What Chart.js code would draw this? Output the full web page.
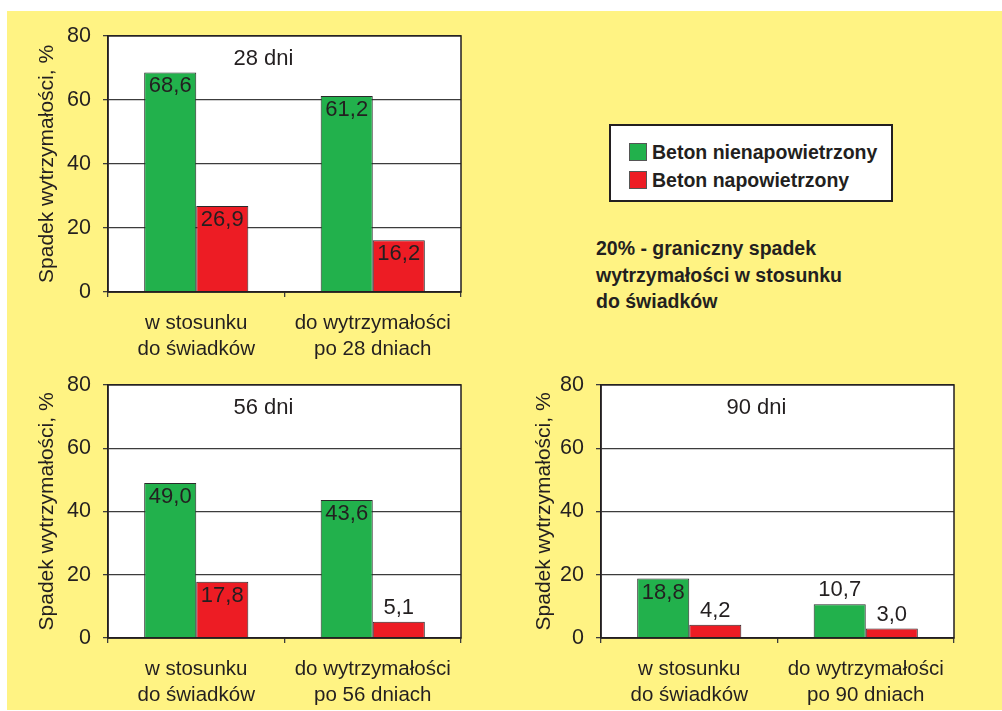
<!DOCTYPE html>
<html lang="pl">
<head>
<meta charset="utf-8">
<script src="https://cdn.jsdelivr.net/npm/chart.js@4/dist/chart.umd.min.js"></script>
<style>
  html, body { margin: 0; padding: 0; background: #ffffff; }
  body { width: 1002px; height: 711px; position: relative; overflow: hidden;
         font-family: "Liberation Sans", Arial, sans-serif; color: #231f20; }
  #panel { position: absolute; left: 7px; top: 11px; width: 995px; height: 699px; background: #fff383; }
  canvas { position: absolute; }
  #legend { position: absolute; left: 609px; top: 124px; width: 280px; height: 74px;
            background: #ffffff; border: 2px solid #231f20; }
  .entry { position: absolute; left: 18px; font-weight: bold; font-size: 19.5px; line-height: 22px; white-space: nowrap; }
  .swatch { position: absolute; left: 0; top: 2px; width: 16px; height: 16px; border: 1px solid #555; }
  .entry span.txt { position: absolute; left: 23px; top: 0; }
  #note { position: absolute; left: 596px; top: 235px; font-weight: bold; font-size: 19.5px; line-height: 26.5px; white-space: nowrap; }
</style>
</head>
<body>
<div id="panel"></div>
<canvas id="c28" width="470" height="350" style="left:7px; top:11px;"></canvas>
<canvas id="c56" width="470" height="350" style="left:7px; top:360px;"></canvas>
<canvas id="c90" width="480" height="350" style="left:500px; top:360px;"></canvas>
<div id="legend"></div>
<div id="note">20% - graniczny spadek<br>wytrzymałości w stosunku<br>do świadków</div>
<script>
// Spadek wytrzymałości betonu (%) – beton nienapowietrzony vs napowietrzony
const seriesNames = ['Beton nienapowietrzony', 'Beton napowietrzony'];
const seriesColors = ['#22b14c', '#ed1c24'];

const periods = ['28 dni', '56 dni', '90 dni'];

const categories28 = [['w stosunku', 'do świadków'], ['do wytrzymałości', 'po 28 dniach']];
const categories56 = [['w stosunku', 'do świadków'], ['do wytrzymałości', 'po 56 dniach']];
const categories90 = [['w stosunku', 'do świadków'], ['do wytrzymałości', 'po 90 dniach']];

const nienapowietrzony28 = [68.6, 61.2];
const napowietrzony28 = [26.9, 16.2];
const nienapowietrzony56 = [49.0, 43.6];
const napowietrzony56 = [17.8, 5.1];
const nienapowietrzony90 = [18.8, 10.7];
const napowietrzony90 = [4.2, 3.0];

const yMin = 0;
const yMax = 80;
const yStep = 20;
const yTitle = 'Spadek wytrzymałości, %';

const FONT = '"Liberation Sans", Arial, sans-serif';
const INK = '#231f20';
const GRID = '#3c3c3c';

Chart.defaults.font.family = FONT;
Chart.defaults.color = INK;

const fmt = v => v.toFixed(1).replace('.', ',');

// value labels: inside the top of tall bars, above short ones
const valueLabels = {
  id: 'valueLabels',
  afterDatasetsDraw(chart) {
    const ctx = chart.ctx;
    ctx.save();
    ctx.font = '22px ' + FONT;
    ctx.fillStyle = INK;
    ctx.textAlign = 'center';
    ctx.textBaseline = 'middle';
    chart.data.datasets.forEach((ds, i) => {
      chart.getDatasetMeta(i).data.forEach((bar, j) => {
        const v = ds.data[j];
        const y = v >= 12 ? bar.y + 14 : bar.y - 14;
        ctx.fillText(fmt(v), bar.x, y);
      });
    });
    ctx.restore();
  }
};

// white plot area, frame round it and the period caption inside it
const frameAndCaption = {
  id: 'frameAndCaption',
  beforeDraw(chart) {
    const {ctx, chartArea: a} = chart;
    ctx.save();
    ctx.fillStyle = '#ffffff';
    ctx.fillRect(a.left, a.top, a.right - a.left, a.bottom - a.top);
    ctx.restore();
  },
  afterDraw(chart, args, opts) {
    const {ctx, chartArea: a} = chart;
    ctx.save();
    ctx.strokeStyle = INK;
    ctx.lineWidth = 1.5;
    ctx.strokeRect(a.left, a.top, a.right - a.left, a.bottom - a.top);
    ctx.font = '22px ' + FONT;
    ctx.fillStyle = INK;
    ctx.textAlign = 'center';
    ctx.textBaseline = 'middle';
    ctx.fillText(opts.text, (a.left + a.right) / 2 - 21, a.top + 23);
    ctx.restore();
  }
};

function makeChart(id, caption, categories, seriesA, seriesB, pad) {
  return new Chart(document.getElementById(id), {
    type: 'bar',
    data: {
      labels: categories,
      datasets: [seriesA, seriesB].map((d, i) => ({
        label: seriesNames[i],
        data: d,
        backgroundColor: seriesColors[i],
        borderColor: '#2a2a2a',
        borderWidth: 1,
        barPercentage: 1,
        categoryPercentage: 0.59
      }))
    },
    options: {
      responsive: false,
      animation: false,
      layout: { padding: { left: 0, top: pad.top, right: pad.right, bottom: 0 } },
      plugins: {
        legend: { display: false },
        tooltip: { enabled: false },
        frameAndCaption: { text: caption }
      },
      scales: {
        x: {
          afterFit(s) { s.height = pad.xh; },
          grid: { display: true, drawOnChartArea: false, drawTicks: true, tickLength: 5,
                  color: GRID, lineWidth: 1.3 },
          border: { display: true, color: INK, width: 1.5 },
          ticks: { color: INK, font: { size: 20.5, lineHeight: 1.27 }, padding: 13, maxRotation: 0 }
        },
        y: {
          min: yMin, max: yMax,
          afterFit(s) { s.width = pad.yw; },
          grid: { color: GRID, lineWidth: 1.3, tickLength: 5 },
          border: { display: true, color: INK, width: 1.5 },
          ticks: { stepSize: yStep, color: INK, font: { size: 21.5 }, padding: 12 },
          title: { display: true, text: yTitle, color: INK, font: { size: 21 }, padding: { top: pad.tt, bottom: 0 } }
        }
      }
    },
    plugins: [valueLabels, frameAndCaption]
  });
}

makeChart('c28', periods[0], categories28, nienapowietrzony28, napowietrzony28,
  { top: 23, right: 16, xh: 69, yw: 101, tt: 28 });
makeChart('c56', periods[1], categories56, nienapowietrzony56, napowietrzony56,
  { top: 21, right: 16, xh: 72, yw: 101, tt: 28 });
makeChart('c90', periods[2], categories90, nienapowietrzony90, napowietrzony90,
  { top: 21, right: 26, xh: 72, yw: 101, tt: 32 });

// legend box built from the series names and colours
const legend = document.getElementById('legend');
seriesNames.forEach((name, i) => {
  const e = document.createElement('div');
  e.className = 'entry';
  e.style.top = (15 + i * 28) + 'px';
  const sw = document.createElement('div');
  sw.className = 'swatch';
  sw.style.background = seriesColors[i];
  const t = document.createElement('span');
  t.className = 'txt';
  t.textContent = name;
  e.appendChild(sw);
  e.appendChild(t);
  legend.appendChild(e);
});
</script>
</body>
</html>
